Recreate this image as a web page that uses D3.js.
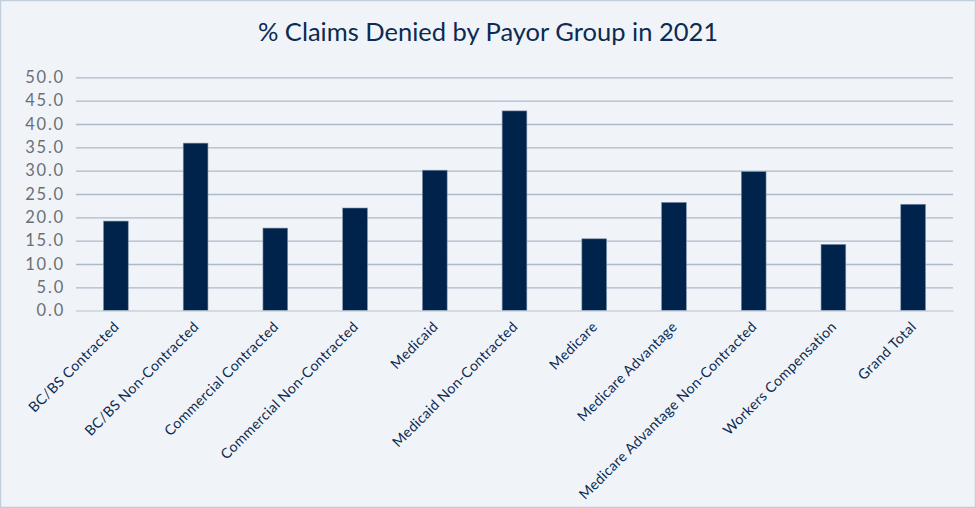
<!DOCTYPE html>
<html><head><meta charset="utf-8">
<script src="https://cdn.jsdelivr.net/npm/d3@7"></script>
<style>
html,body{margin:0;padding:0;background:#f0f4f9;}
svg{display:block;}
</style></head>
<body>
<script>
const categories = ["BC/BS Contracted","BC/BS Non-Contracted","Commercial Contracted","Commercial Non-Contracted","Medicaid","Medicaid Non-Contracted","Medicare","Medicare Advantage","Medicare Advantage Non-Contracted","Workers Compensation","Grand Total"];
const values = [19.2, 35.9, 17.7, 22.0, 30.1, 42.8, 15.4, 23.2, 29.8, 14.2, 22.8];
const yTicks = [0,5,10,15,20,25,30,35,40,45,50];
const title = "% Claims Denied by Payor Group in 2021";

const W = 976, H = 508;
const m = {left:76, right:23, top:77.3, bottom:197.3};
const svg = d3.select("body").append("svg").attr("width",W).attr("height",H);
svg.append("rect").attr("x",0.5).attr("y",0.5).attr("width",W-1).attr("height",H-1)
  .attr("fill","#f0f4f9").attr("stroke","#c3cedb").attr("stroke-width",1.5);

const x = d3.scaleBand().domain(categories).range([m.left, W-m.right]).paddingInner(0.69).paddingOuter(0.345);
const y = d3.scaleLinear().domain([0,50]).range([H-m.bottom, m.top]);

svg.append("text").attr("x",488).attr("y",41).attr("text-anchor","middle")
  .attr("font-family","Lato, 'Open Sans', sans-serif").attr("font-size",25.5).attr("fill","#0c2a52").text(title);

const yAxis = svg.append("g").attr("transform",`translate(${m.left},0)`)
  .call(d3.axisLeft(y).tickValues(yTicks).tickFormat(d3.format(".1f")).tickSize(-(W-m.left-m.right)).tickPadding(11));
yAxis.select(".domain").remove();
yAxis.selectAll(".tick line").attr("stroke","#adb9cb").attr("stroke-width",1.3);
yAxis.selectAll(".tick text").attr("font-family","Lato, sans-serif").attr("font-size",16.5)
  .attr("letter-spacing","1.8px").attr("fill","#6b6f75");

svg.append("g").selectAll("rect").data(values).join("rect")
  .attr("x",(d,i)=>x(categories[i])).attr("width",x.bandwidth())
  .attr("y",d=>y(d)).attr("height",d=>y(0)-y(d))
  .attr("fill","#00234c").attr("stroke","#7d90a8").attr("stroke-width",0.6);

const xAxis = svg.append("g").attr("transform",`translate(0,${y(0)})`)
  .call(d3.axisBottom(x).tickSize(0).tickPadding(0));
xAxis.select(".domain").attr("stroke","#d3dbe3").attr("stroke-width",1.5);
xAxis.selectAll(".tick text").attr("font-family","Lato, sans-serif").attr("font-size",14.2)
  .attr("letter-spacing","0.35px").attr("fill","#0c2a52")
  .attr("text-anchor","end").attr("dy",0).attr("y",0)
  .attr("transform","translate(4,17) rotate(-45)");
</script>
</body></html>
